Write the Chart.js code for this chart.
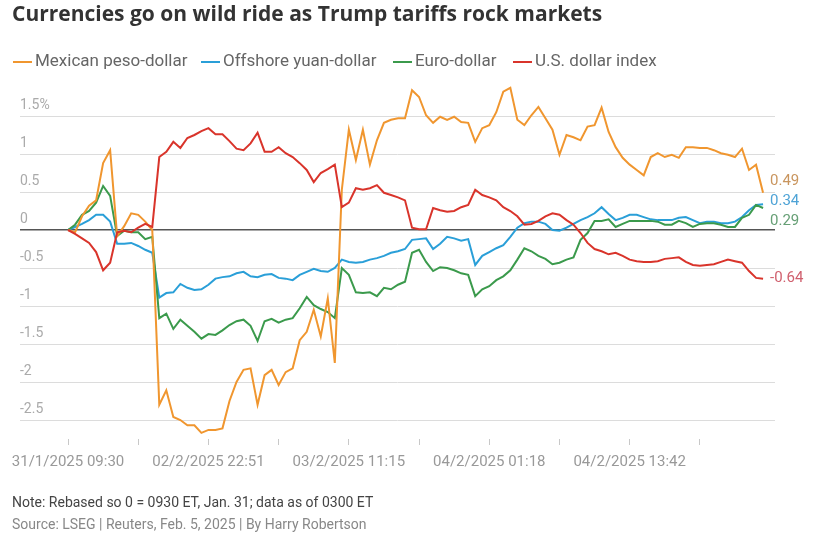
<!DOCTYPE html>
<html>
<head>
<meta charset="utf-8">
<script src="https://cdn.jsdelivr.net/npm/chart.js@4.4.1/dist/chart.umd.min.js"></script>
<style>
  body { margin: 0; background: #fff; font-family: Roboto, sans-serif; }
  #wrap { position: relative; width: 831px; height: 534px; overflow: hidden; }
  #chart { position: absolute; left: 0; top: 0; }
  .title { position: absolute; left: 12px; top: 0px; font-family: "Open Sans", sans-serif; font-size: 21px; font-weight: 700; color: #333; line-height: 26px; white-space: nowrap; }
  .lg { position: absolute; top: 50px; font-size: 17px; color: #666; line-height: 20px; white-space: nowrap; }
  .lg i { display: inline-block; width: 19px; height: 2px; vertical-align: middle; margin-right: 3px; }
  .foot { position: absolute; left: 12px; font-size: 14px; line-height: 16px; white-space: nowrap; }
</style>
</head>
<body>
<div id="wrap">
  <canvas id="chart" width="831" height="534"></canvas>
  <div class="title">Currencies go on wild ride as Trump tariffs rock markets</div>
  <div id="legend"></div>
  <div class="foot" style="top:494px;color:#444">Note: Rebased so 0 = 0930 ET, Jan. 31; data as of 0300 ET</div>
  <div class="foot" style="top:516px;color:#888">Source: LSEG | Reuters, Feb. 5, 2025 | By Harry Robertson</div>
</div>
<script>
// Series (percent change, rebased), one point per ~1/10 of a tick step
const peso = [0, -0.03, 0.18, 0.32, 0.39, 0.88, 1.05, -0.08, 0.05, 0.22,
  0.20, 0.11, 0.0, -2.30, -2.11, -2.46, -2.50, -2.57, -2.57, -2.67,
  -2.63, -2.63, -2.61, -2.25, -2.00, -1.84, -1.82, -2.30, -1.91, -1.84,
  -2.04, -1.87, -1.82, -1.45, -1.34, -1.05, -1.40, -0.90, -1.75, 0.53,
  1.32, 0.92, 1.32, 0.86, 1.18, 1.41, 1.45, 1.47, 1.47, 1.84,
  1.75, 1.51, 1.41, 1.49, 1.45, 1.49, 1.42, 1.41, 1.16, 1.34,
  1.38, 1.55, 1.82, 1.87, 1.45, 1.38, 1.51, 1.62, 1.47, 1.32,
  0.99, 1.25, 1.22, 1.18, 1.36, 1.38, 1.61, 1.29, 1.09, 0.95,
  0.86, 0.79, 0.72, 0.96, 1.01, 0.96, 0.99, 0.95, 1.09, 1.09,
  1.08, 1.08, 1.05, 1.01, 0.99, 0.96, 1.07, 0.79, 0.86, 0.49];

const yuan = [0, 0.04, 0.08, 0.13, 0.20, 0.20, 0.11, -0.18, -0.18, -0.17,
  -0.21, -0.26, -0.30, -0.89, -0.83, -0.82, -0.71, -0.76, -0.79, -0.78,
  -0.72, -0.64, -0.62, -0.61, -0.57, -0.55, -0.61, -0.62, -0.59, -0.58,
  -0.63, -0.64, -0.66, -0.59, -0.55, -0.51, -0.54, -0.55, -0.50, -0.39,
  -0.42, -0.43, -0.42, -0.39, -0.37, -0.34, -0.30, -0.28, -0.25, -0.13,
  -0.12, -0.11, -0.25, -0.18, -0.09, -0.11, -0.14, -0.12, -0.46, -0.34,
  -0.29, -0.24, -0.20, -0.09, 0.03, 0.09, 0.11, 0.11, 0.08, 0,
  -0.01, 0.03, 0.08, 0.13, 0.17, 0.22, 0.30, 0.21, 0.13, 0.16,
  0.20, 0.20, 0.17, 0.14, 0.13, 0.13, 0.13, 0.16, 0.17, 0.13,
  0.09, 0.11, 0.11, 0.09, 0.09, 0.11, 0.17, 0.26, 0.33, 0.34];

const euro = [0, 0.07, 0.20, 0.25, 0.36, 0.58, 0.45, -0.08, -0.01, -0.03,
  -0.03, -0.12, -0.09, -1.16, -1.10, -1.30, -1.18, -1.26, -1.34, -1.43,
  -1.37, -1.38, -1.32, -1.25, -1.20, -1.18, -1.26, -1.46, -1.20, -1.17,
  -1.22, -1.18, -1.16, -1.03, -0.88, -0.99, -1.04, -1.08, -1.16, -0.50,
  -0.59, -0.82, -0.83, -0.82, -0.87, -0.76, -0.78, -0.72, -0.68, -0.30,
  -0.26, -0.42, -0.54, -0.49, -0.50, -0.53, -0.57, -0.59, -0.87, -0.78,
  -0.74, -0.66, -0.61, -0.53, -0.39, -0.24, -0.28, -0.34, -0.38, -0.45,
  -0.43, -0.39, -0.36, -0.13, -0.04, 0.12, 0.12, 0.14, 0.04, 0.08,
  0.12, 0.12, 0.12, 0.12, 0.11, 0.07, 0.07, 0.12, 0.09, 0.04,
  0.08, 0.09, 0.09, 0.07, 0.04, 0.04, 0.16, 0.20, 0.33, 0.29];

const dollarIndex = [0, -0.05, -0.11, -0.17, -0.29, -0.53, -0.43, -0.03, -0.01, -0.03,
  0.03, 0.08, 0.04, 0.96, 1.03, 1.16, 1.08, 1.21, 1.25, 1.30,
  1.34, 1.26, 1.26, 1.17, 1.07, 1.05, 1.14, 1.28, 1.03, 1.03,
  1.09, 1.01, 0.96, 0.88, 0.79, 0.63, 0.75, 0.80, 0.86, 0.30,
  0.36, 0.55, 0.53, 0.55, 0.59, 0.49, 0.46, 0.43, 0.39, 0.03,
  0.01, 0.01, 0.29, 0.26, 0.24, 0.25, 0.30, 0.33, 0.53, 0.46,
  0.43, 0.39, 0.30, 0.25, 0.18, 0.07, 0.08, 0.12, 0.18, 0.22,
  0.20, 0.13, 0.07, -0.04, -0.17, -0.25, -0.28, -0.32, -0.30, -0.34,
  -0.39, -0.41, -0.42, -0.42, -0.41, -0.38, -0.37, -0.36, -0.42, -0.46,
  -0.47, -0.46, -0.45, -0.42, -0.39, -0.41, -0.43, -0.54, -0.63, -0.64];

const seriesNames = ["Mexican peso-dollar", "Offshore yuan-dollar", "Euro-dollar", "U.S. dollar index"];

// Axis labels
const xTickLabels = ["31/1/2025 09:30", "02/2/2025 22:51", "03/2/2025 11:15", "04/2/2025 01:18", "04/2/2025 13:42"];
const yTicks = [1.5, 1, 0.5, 0, -0.5, -1, -1.5, -2, -2.5];

const lineColors = ["#f0962f", "#2a9fd8", "#3b9a4c", "#d9342b"];
const labelColors = ["#c9955e", "#4ea3d6", "#669f75", "#d0606e"];
const legendLeft = [13, 201, 393, 513];

// HTML legend
const legend = document.getElementById("legend");
seriesNames.forEach((name, i) => {
  const d = document.createElement("div");
  d.className = "lg";
  d.style.left = legendLeft[i] + "px";
  d.innerHTML = '<i style="background:' + lineColors[i] + '"></i>' + name;
  legend.appendChild(d);
});

const idx = peso.map((_, i) => i);

// Last value labels at the right, pushed apart when they collide
const endLabels = {
  id: "endLabels",
  afterDatasetsDraw(chart) {
    const ctx = chart.ctx;
    const items = chart.data.datasets.map((ds, i) => {
      const meta = chart.getDatasetMeta(i);
      const pt = meta.data[meta.data.length - 1];
      return { text: ds.data[ds.data.length - 1].toFixed(2), y: pt.y, color: labelColors[i] };
    });
    items.sort((a, b) => a.y - b.y);
    const gap = 20;
    for (let k = 0; k < 60; k++) {
      for (let j = 1; j < items.length; j++) {
        const d = items[j].y - items[j - 1].y;
        if (d < gap) {
          const m = (gap - d) / 2;
          items[j - 1].y -= m;
          items[j].y += m;
        }
      }
    }
    ctx.save();
    ctx.font = "15px Roboto";
    ctx.textAlign = "left";
    ctx.textBaseline = "middle";
    items.forEach(it => {
      ctx.fillStyle = it.color;
      ctx.fillText(it.text, chart.chartArea.right - 5, it.y);
    });
    ctx.restore();
  }
};

const datasets = [peso, yuan, euro, dollarIndex].map((data, i) => ({
  label: seriesNames[i],
  data: data,
  borderColor: lineColors[i],
  borderWidth: 2,
  pointRadius: 0,
  tension: 0,
  order: [2, 4, 3, 1][i]
}));

new Chart(document.getElementById("chart"), {
  type: "line",
  data: { labels: idx, datasets: datasets },
  plugins: [endLabels],
  options: {
    responsive: false,
    animation: false,
    devicePixelRatio: 1,
    layout: { padding: { left: 20, right: 56, top: 78, bottom: 55 } },
    plugins: { legend: { display: false }, tooltip: { enabled: false } },
    scales: {
      x: {
        type: "linear",
        min: -6.84,
        max: 100.7,
        border: { display: false },
        grid: { drawOnChartArea: false, drawTicks: true, tickLength: 6, color: "#c8c8c8" },
        afterBuildTicks: s => {
          const t = [];
          for (let v = 0; v <= 90; v += 10) t.push({ value: v });
          s.ticks = t;
        },
        ticks: {
          autoSkip: false,
          maxRotation: 0,
          minRotation: 0,
          padding: 8,
          color: "#999",
          font: { family: "Roboto", size: 15 },
          callback: v => (v % 20 === 0 ? xTickLabels[v / 20] : "")
        }
      },
      y: {
        min: -2.75,
        max: 2,
        border: { display: false },
        afterBuildTicks: s => { s.ticks = yTicks.map(v => ({ value: v })); },
        grid: {
          drawTicks: false,
          color: c => (c.tick && c.tick.value === 0 ? "#555" : "#dcdcdc"),
          lineWidth: c => (c.tick && c.tick.value === 0 ? 1.5 : 1)
        },
        ticks: {
          mirror: true,
          padding: 0,
          labelOffset: -11,
          color: "#aaa",
          font: { family: "Roboto", size: 14 },
          callback: v => (v === 1.5 ? "1.5%" : String(v))
        }
      }
    }
  }
});
</script>
</body>
</html>
